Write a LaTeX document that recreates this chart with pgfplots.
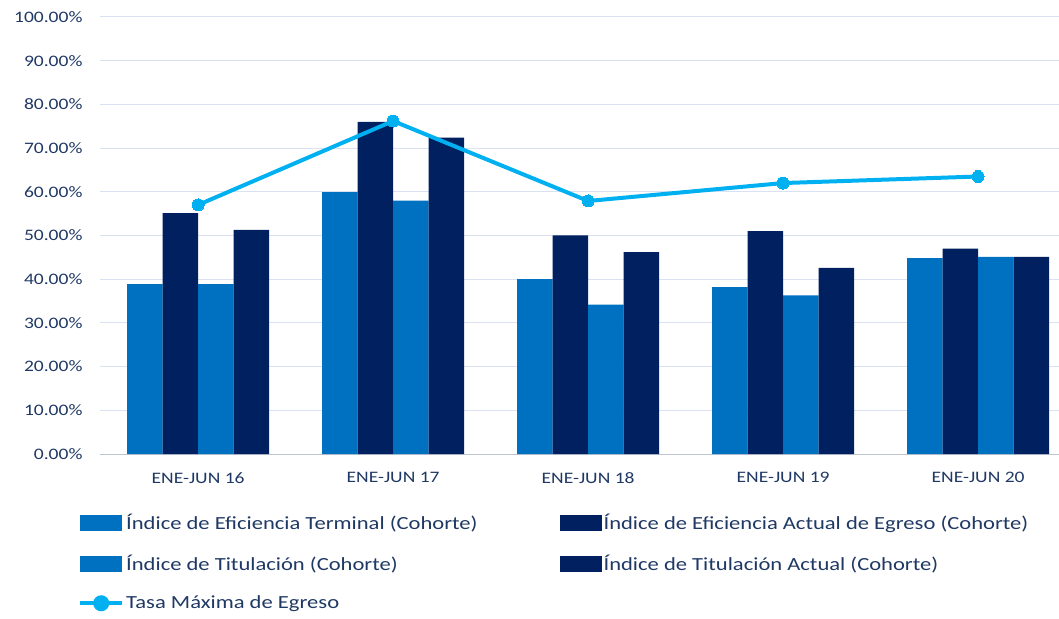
\documentclass[border=0pt]{standalone}
\usepackage{pgfplots}
\pgfplotsset{compat=1.18}
\usepackage{fontspec}
\setmainfont{Carlito}[FakeStretch=1.22]
\definecolor{lblue}{HTML}{0070C0}
\definecolor{dblue}{HTML}{002060}
\definecolor{cyanl}{HTML}{00B0F0}
\definecolor{gridc}{HTML}{D9E1F2}
\definecolor{txt}{HTML}{1F3864}
\begin{document}
\begin{tikzpicture}[x=1pt,y=1pt]
\useasboundingbox (0,0) rectangle (1059,618);
\begin{axis}[
  at={(100pt,164pt)}, anchor=south west,
  scale only axis, width=959pt, height=437pt,
  xmin=-0.503, xmax=4.415, ymin=0, ymax=100,
  xtick={0,1,2,3,4},
  xticklabels={ENE-JUN 16,ENE-JUN 17,ENE-JUN 18,ENE-JUN 19,ENE-JUN 20},
  ytick={0,10,...,100},
  yticklabel={\pgfmathprintnumber[fixed,fixed zerofill,precision=2]{\tick}\%},
  /pgf/number format/assume math mode=true,
  ymajorgrids, grid style={gridc, line width=1pt},
  axis x line*=bottom, axis y line*=left,
  x axis line style={draw=gridc!70!gray, line width=1pt},
  y axis line style={draw=none},
  major tick length=0pt,
  tick label style={font=\fontsize{16}{19}\selectfont, text=txt},
  yticklabel style={xshift=-14pt},
  xticklabel style={yshift=-15pt},
  clip=false,
  legend columns=2,
  legend cell align=left,
  legend style={at={(0,0)}, anchor=north west, xshift=-25pt, yshift=-56pt,
    draw=none, fill=none, font=\fontsize{18.5}{21}\selectfont, text=txt,
    row sep=20pt,
    /tikz/every even column/.append style={column sep=80pt},
    nodes={inner xsep=2pt}},
]
\addplot[ybar, bar width=35.5pt, bar shift=-53.25pt, fill=lblue, draw=none,
  legend image code/.code={\fill[lblue] (0pt,-8pt) rectangle (42pt,8pt);}]
  coordinates {(0,38.9) (1,59.9) (2,40.0) (3,38.2) (4,44.8)};
\addlegendentry{Índice de Eficiencia Terminal (Cohorte)}
\addplot[ybar, bar width=35.5pt, bar shift=-17.75pt, fill=dblue, draw=none,
  legend image code/.code={\fill[dblue] (0pt,-8pt) rectangle (42pt,8pt);}]
  coordinates {(0,55.1) (1,76.0) (2,50.0) (3,51.0) (4,47.0)};
\addlegendentry{Índice de Eficiencia Actual de Egreso (Cohorte)}
\addplot[ybar, bar width=35.5pt, bar shift=17.75pt, fill=lblue, draw=none,
  legend image code/.code={\fill[lblue] (0pt,-8pt) rectangle (42pt,8pt);}]
  coordinates {(0,38.9) (1,58.0) (2,34.2) (3,36.3) (4,45.1)};
\addlegendentry{Índice de Titulación (Cohorte)}
\addplot[ybar, bar width=35.5pt, bar shift=53.25pt, fill=dblue, draw=none,
  legend image code/.code={\fill[dblue] (0pt,-8pt) rectangle (42pt,8pt);}]
  coordinates {(0,51.3) (1,72.4) (2,46.2) (3,42.6) (4,45.1)};
\addlegendentry{Índice de Titulación Actual (Cohorte)}
\addplot[cyanl, line width=4pt, mark=*, mark size=6pt, mark options={fill=cyanl, draw=cyanl, line width=0pt},
  legend image code/.code={\draw[cyanl,line width=4pt] (0pt,0pt) -- (42pt,0pt); \fill[cyanl] (21pt,0pt) circle (6pt);}]
  coordinates {(0,57.0) (1,76.2) (2,57.9) (3,62.0) (4,63.5)};
\addlegendentry{Tasa Máxima de Egreso}
\end{axis}
\end{tikzpicture}
\end{document}
